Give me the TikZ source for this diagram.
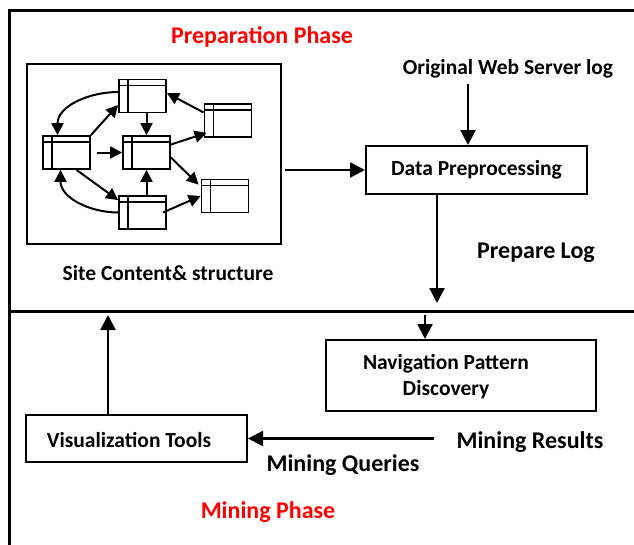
\documentclass[tikz,border=0pt]{standalone}
\usepackage{fontspec}
\setmainfont{Carlito}
\usetikzlibrary{arrows.meta}

\tikzset{every path/.style={line width=2pt}}
\tikzset{
  frame/.style={line width=3pt},
  tip/.style={line width=2.2pt,-{Triangle[length=15pt,width=15pt]}},
  small tip/.style={line width=2pt,-{Triangle[length=12pt,width=12pt]}},
  box/.style={draw,inner sep=0pt,font=\fontsize{21.5}{26}\selectfont\bfseries},
  txt/.style={inner sep=0pt,font=\fontsize{21.5}{26}\selectfont\bfseries},
  bigtxt/.style={inner sep=0pt,font=\fontsize{24}{28}\selectfont\bfseries},
  phase/.style={bigtxt,text=red},
  page/.style={draw,line width=1.8pt,minimum width=47pt,minimum height=33pt,inner sep=0pt,
    path picture={
      \draw[line width=1.4pt] ([yshift=-6pt]path picture bounding box.north west) -- ([yshift=-6pt]path picture bounding box.north east);
      \draw[line width=1.4pt] ([xshift=9pt]path picture bounding box.north west) -- ([xshift=9pt]path picture bounding box.south west);}}
}

\begin{document}
\begin{tikzpicture}[x=1pt,y=-1pt]
\useasboundingbox (0,0) rectangle (634,544);
\draw[frame] (636,10) -- (9,10) -- (9,546);
\draw[frame] (9,311) -- (636,311);

\node[phase] (prep) at (262,37) {Preparation Phase};
\node[phase] (mine) at (268,512) {Mining Phase};

\node[draw,minimum width=254pt,minimum height=180pt] (site) at (154,154) {};
\node[page] (p1) at (142.5,96) {};
\node[page] (p2) at (66.5,152.5) {};
\node[page] (p3) at (146.5,152.5) {};
\node[page] (p4) at (142.5,212.5) {};
\node[page] (p5) at (228,120.5) {};
\node[page] (p6) at (225,196) {};
\draw[small tip] ([yshift=4pt]p1.west) to[out=180,in=90] ([xshift=-9pt]p2.north);
\draw[small tip] (p2.north east) -- ([yshift=-9pt]p1.west);
\draw[small tip] (p1.south -| p3.north) -- (p3.north);
\draw[small tip,shorten <=6pt] (p2.east) -- (p3.west);
\draw[small tip] ([xshift=10pt]p2.south) -- ([yshift=-5pt]p4.north west);
\draw[small tip] (p4.west) to[out=180,in=-90] ([xshift=-6pt]p2.south);
\draw[small tip] (p4.north -| p3.south) -- (p3.south);
\draw[small tip] ([yshift=8pt]p3.east) -- ([xshift=3pt,yshift=5pt]p5.south west);
\draw[small tip] ([yshift=8pt]p5.west) -- ([yshift=3pt]p1.east);
\draw[small tip] ([yshift=-5pt]p3.east) -- ([xshift=-2pt,yshift=-6pt]p6.north west);
\draw[small tip] ([xshift=-4pt]p4.east) -- (p6.west);
\node[txt] (sitetxt) at (168,273) {Site Content\& structure};

\node[txt] (orig) at (508,69) {Original Web Server log};
\node[box,minimum width=221pt,minimum height=48pt] (dp) at (476.5,170) {Data Preprocessing};
\coordinate (og) at (468,84);
\draw[tip] (og) -- (og |- dp.north);
\draw[tip,shorten <=3pt] (site.east |- dp.west) -- (dp.west);
\coordinate (lg) at (437,303);
\draw[tip] (dp.south -| lg) -- (lg);
\node[bigtxt] (plog) at (536,253) {Prepare Log};

\node[box,minimum width=270pt,minimum height=71pt] (nav) at (461,375.5) {};
\node[txt,align=center] (navtxt) at (446,377) {Navigation Pattern\\Discovery};
\coordinate (nv) at (425,315);
\draw[tip] (nv) -- (nv |- nav.north);

\node[box,minimum width=221pt,minimum height=47pt] (vis) at (136.5,438.5) {};
\node[txt] (vistxt) at (129,440) {Visualization Tools};
\coordinate (vu) at (108,315);
\draw[tip] (vis.north -| vu) -- (vu);

\node[bigtxt] (mres) at (530,442) {Mining Results};
\node[bigtxt] (mqry) at (343,465) {Mining Queries};
\draw[tip,shorten <=22pt] (mres.west |- vis.east) -- (vis.east);
\end{tikzpicture}
\end{document}
